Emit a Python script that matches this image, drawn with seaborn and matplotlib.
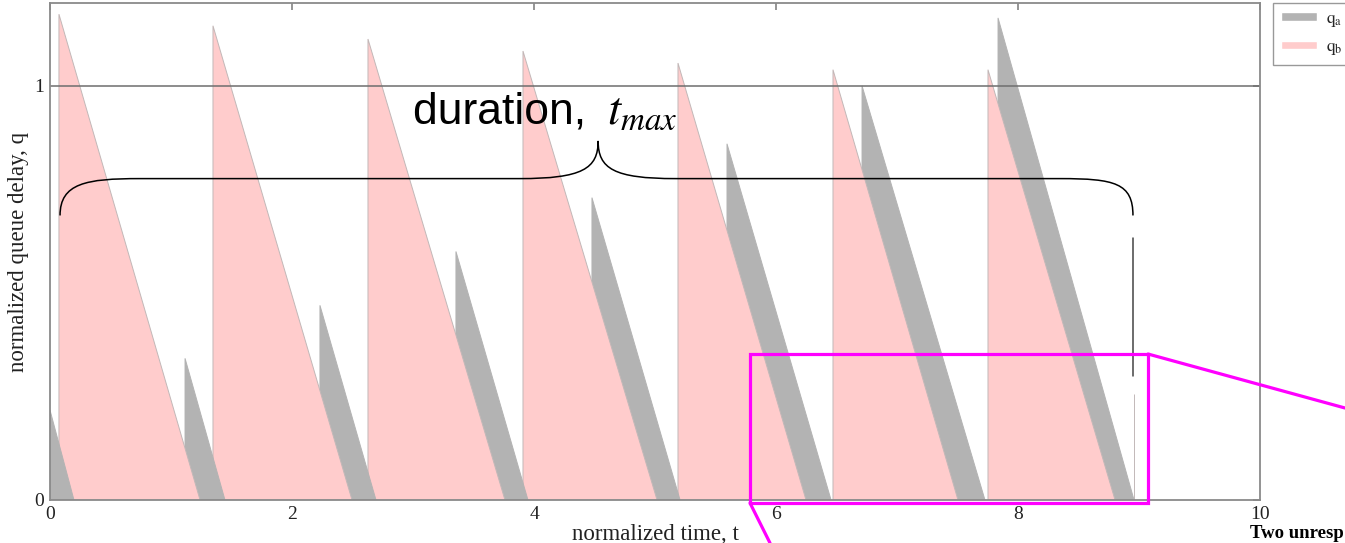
import numpy as np
import pandas as pd
import matplotlib
matplotlib.use("Agg")
import matplotlib.pyplot as plt
import seaborn as sns
from matplotlib.patches import Patch, Rectangle, PathPatch
from matplotlib.path import Path
from matplotlib.lines import Line2D

# queue a (grey) sawtooth: start time, peak delay, time it drains to 0
qa_start = [0.0, 1.116, 2.231, 3.355, 4.479, 5.595, 6.711, 7.835]
qa_peak = [0.217, 0.342, 0.47, 0.60, 0.73, 0.86, 1.0, 1.164]
qa_end = [0.198, 1.446, 2.694, 3.95, 5.207, 6.455, 7.727, 8.959]

# queue b (pink) sawtooth
qb_start = [0.074, 1.347, 2.628, 3.909, 5.19, 6.471, 7.752, 8.96]
qb_peak = [1.173, 1.145, 1.113, 1.084, 1.055, 1.039, 1.039, 0.255]
qb_end = [1.24, 2.496, 3.76, 5.017, 6.248, 7.504, 8.802, 8.96]

xticks = [0, 2, 4, 6, 8, 10]
yticks = [0, 1]

colors = {"qa": "#b3b3b3", "qb": "#ffcccc"}

sns.set_theme(style="white")
plt.rcParams['font.family'] = ['Liberation Serif', 'DejaVu Serif']
plt.rcParams['mathtext.fontset'] = 'stix'

teeth = pd.concat([
    pd.DataFrame({"series": "qa", "t0": qa_start, "h": qa_peak, "t1": qa_end}),
    pd.DataFrame({"series": "qb", "t0": qb_start, "h": qb_peak, "t1": qb_end}),
]).sort_values("t0").reset_index(drop=True)

fig, ax = plt.subplots(figsize=(13.45, 5.43), dpi=100)
fig.subplots_adjust(left=50/1345, right=1260/1345, bottom=43/543, top=540/543)

# earlier teeth sit on top of later ones
n = len(teeth)
for i, r in teeth.iterrows():
    edge = "#c2b8b8" if r.series == "qb" else colors["qa"]
    ax.fill([r.t0, r.t0, r.t1], [0, r.h, 0], facecolor=colors[r.series],
            edgecolor=edge, lw=0.7, zorder=3 + (n - i) * 0.01)

ax.axhline(1, color="#6e6e6e", lw=1.1, zorder=5)

# curly brace for the duration
verts = [(0.083, 0.687), (0.083, 0.765), (0.30, 0.776), (0.74, 0.776),
         (3.88, 0.776),
         (4.40, 0.776), (4.53, 0.80), (4.53, 0.867),
         (4.53, 0.80), (4.66, 0.776), (5.17, 0.776),
         (8.35, 0.776),
         (8.80, 0.776), (8.95, 0.765), (8.95, 0.687)]
codes = [Path.MOVETO, Path.CURVE4, Path.CURVE4, Path.CURVE4,
         Path.LINETO,
         Path.CURVE4, Path.CURVE4, Path.CURVE4,
         Path.CURVE4, Path.CURVE4, Path.CURVE4,
         Path.LINETO,
         Path.CURVE4, Path.CURVE4, Path.CURVE4]
ax.add_patch(PathPatch(Path(verts, codes), fill=False, ec="black", lw=1.1, zorder=6))
ax.plot([8.95, 8.95], [0.30, 0.633], color="#444444", lw=1.1, zorder=6)
ax.text(3.0, 0.908, "duration, ", fontsize=32, family=["Liberation Sans", "DejaVu Sans"],
        va="baseline", ha="left", color="black", zorder=7)
ax.text(4.6, 0.908, r"$t_{max}$", fontsize=34,
        va="baseline", ha="left", color="black", zorder=7)

ax.set_xlim(0, 10)
ax.set_ylim(0, 1.2)
ax.set_xticks(xticks)
ax.set_yticks(yticks)
ax.tick_params(direction="in", length=5, top=True, right=True, color="#888888",
               labelsize=14, labelcolor="#222222", pad=4)
for s in ax.spines.values():
    s.set_color("#8a8a8a")
    s.set_linewidth(1.3)
    s.set_zorder(8)
ax.set_xlabel("normalized time, t", fontsize=16.5, color="#222222", labelpad=1)
ax.set_ylabel("normalized queue delay, q", fontsize=16.5, color="#222222", labelpad=4)

fig.legend(handles=[Patch(fc=colors["qa"], label=r"$\mathrm{q_a}$"),
                    Patch(fc=colors["qb"], label=r"$\mathrm{q_b}$")],
           loc="upper left", bbox_to_anchor=(1273/1345, 1 - 3/543), borderaxespad=0,
           fontsize=12.5, handlelength=2.1, handleheight=0.4, labelspacing=0.6,
           fancybox=False, edgecolor="#999999", framealpha=1, borderpad=0.45,
           handletextpad=0.5)

# magenta zoom marker overlay
def fx(px):
    return px / 1345

def fy(py):
    return 1 - py / 543

mag = "#ff00ff"
fig.add_artist(Rectangle((fx(750), fy(503)), fx(1148) - fx(750), fy(354) - fy(503),
                         fill=False, ec=mag, lw=2.3, transform=fig.transFigure, zorder=10))
fig.add_artist(Line2D([fx(1148), fx(1345)], [fy(354), fy(408)], color=mag, lw=2.3,
                      transform=fig.transFigure, zorder=10))
fig.add_artist(Line2D([fx(750), fx(770)], [fy(503), fy(543)], color=mag, lw=2.3,
                      transform=fig.transFigure, zorder=10))

fig.text(fx(1250), fy(538), "Two unresp", fontsize=13.5, fontweight="bold",
         va="baseline", color="black")

fig.savefig("out.png", dpi=100)
